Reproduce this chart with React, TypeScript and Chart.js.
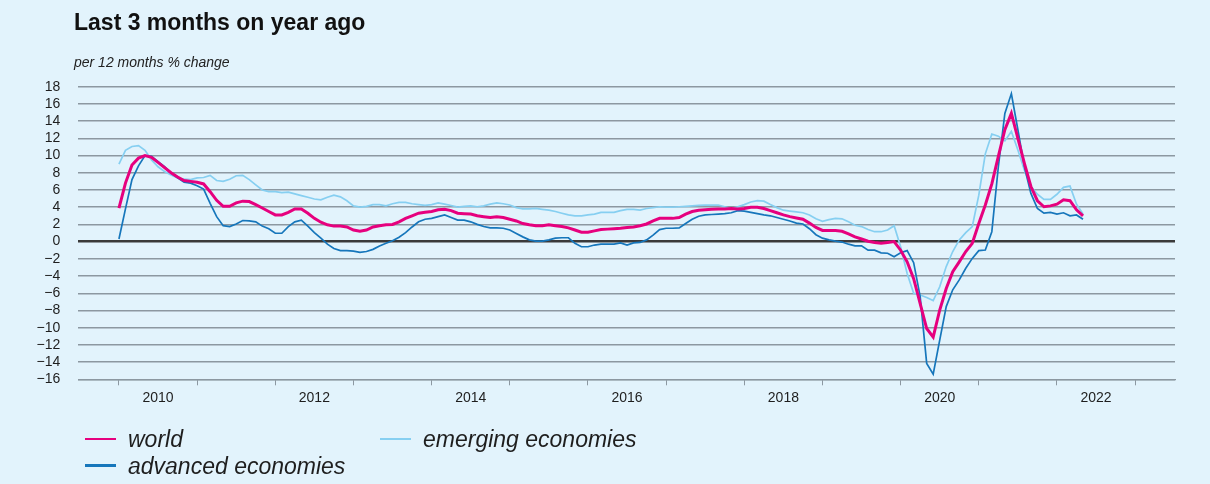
import React, { useEffect, useRef } from 'react';
import { Chart, registerables } from 'chart.js';

Chart.register(...registerables);

const TITLE = 'Last 3 months on year ago';
const SUBTITLE = 'per 12 months % change';

// Monthly observations, first one = January 2010
const START_YEAR = 2010;

const WORLD = [
  3.9, 6.8, 8.9, 9.7, 10.0, 9.8, 9.2, 8.6, 8.0, 7.5, 7.1, 7.0,
  6.9, 6.7, 5.8, 4.8, 4.1, 4.1, 4.5, 4.7, 4.65, 4.3, 3.9, 3.5,
  3.1, 3.1, 3.4, 3.8, 3.8, 3.3, 2.7, 2.25, 1.95, 1.8, 1.8, 1.7,
  1.35, 1.2, 1.35, 1.7, 1.85, 1.95, 2.0, 2.3, 2.7, 3.0, 3.3, 3.4,
  3.5, 3.7, 3.75, 3.6, 3.3, 3.25, 3.2, 3.0, 2.9, 2.8, 2.9, 2.8,
  2.6, 2.4, 2.1, 1.95, 1.85, 1.85, 1.95, 1.85, 1.75, 1.6, 1.35, 1.1,
  1.1, 1.25, 1.4, 1.45, 1.5, 1.55, 1.65, 1.7, 1.85, 2.05, 2.4, 2.7,
  2.7, 2.7, 2.8, 3.2, 3.5, 3.65, 3.7, 3.75, 3.8, 3.8, 3.85, 3.8,
  3.85, 4.0, 4.0, 3.85, 3.6, 3.35, 3.1, 2.9, 2.75, 2.6, 2.15, 1.65,
  1.3, 1.3, 1.3, 1.2, 0.9, 0.55, 0.3, 0.05, -0.1, -0.2, -0.1, 0.0,
  -1.0, -2.35, -4.3, -7.2, -10.1, -11.1, -7.95, -5.45, -3.5, -2.35, -1.15, -0.2,
  2.1, 4.25, 6.7, 9.9, 13.0, 14.9, 12.0, 9.1, 6.4, 4.75, 4.05, 4.15,
  4.35, 4.85, 4.75, 3.7, 3.0,
];

const ADVANCED = [
  0.3, 3.8, 7.2, 8.8, 10.0, 9.9, 9.3, 8.7, 7.95, 7.4, 6.9, 6.8,
  6.5, 6.1, 4.45, 2.9, 1.85, 1.75, 2.05, 2.45, 2.4, 2.3, 1.8, 1.5,
  0.97, 0.97, 1.75, 2.3, 2.5, 1.8, 1.05, 0.4, -0.3, -0.8, -1.05, -1.05,
  -1.1, -1.25, -1.15, -0.9, -0.5, -0.2, 0.1, 0.5, 1.05, 1.7, 2.3, 2.6,
  2.7, 2.9, 3.1, 2.8, 2.5, 2.5, 2.3, 2.0, 1.75, 1.6, 1.6, 1.55,
  1.35, 0.95, 0.55, 0.2, 0.05, 0.05, 0.2, 0.4, 0.45, 0.45, -0.2, -0.6,
  -0.6, -0.4, -0.3, -0.3, -0.3, -0.15, -0.4, -0.15, -0.1, 0.2, 0.75, 1.4,
  1.55, 1.55, 1.6, 2.1, 2.6, 2.95, 3.1, 3.15, 3.2, 3.25, 3.35, 3.6,
  3.55, 3.4, 3.25, 3.1, 3.0, 2.8, 2.6, 2.4, 2.15, 2.05, 1.5, 0.8,
  0.4, 0.2, 0.05, -0.05, -0.3, -0.5, -0.5, -1.0, -1.0, -1.3, -1.35, -1.75,
  -1.3, -1.05, -2.45, -6.4, -14.15, -15.4, -11.45, -7.55, -5.6, -4.45, -3.1, -1.95,
  -1.05, -0.98, 1.15, 8.7, 14.9, 17.2, 13.0, 8.7, 5.6, 3.85, 3.3, 3.4,
  3.2, 3.35, 3.0, 3.1, 2.6,
];

const EMERGING = [
  9.0, 10.6, 11.05, 11.15, 10.6, 9.5, 8.7, 8.15, 7.75, 7.4, 7.25, 7.2,
  7.4, 7.45, 7.7, 7.1, 7.0, 7.25, 7.65, 7.7, 7.2, 6.6, 6.0, 5.8,
  5.8, 5.7, 5.75, 5.55, 5.35, 5.15, 4.95, 4.85, 5.15, 5.4, 5.2, 4.75,
  4.15, 4.0, 4.1, 4.3, 4.3, 4.15, 4.4, 4.55, 4.55, 4.4, 4.3, 4.2,
  4.3, 4.5, 4.35, 4.2, 4.0, 4.1, 4.15, 4.05, 4.15, 4.35, 4.5, 4.4,
  4.25, 3.95, 3.8, 3.8, 3.85, 3.75, 3.65, 3.5, 3.3, 3.1, 3.0, 3.0,
  3.1, 3.2, 3.4, 3.4, 3.4, 3.6, 3.75, 3.75, 3.65, 3.85, 3.95, 4.05,
  4.0, 4.0, 4.05, 4.1, 4.15, 4.2, 4.25, 4.25, 4.25, 4.05, 3.85, 4.05,
  4.3, 4.6, 4.75, 4.7, 4.3, 3.95, 3.65, 3.55, 3.45, 3.35, 3.1, 2.65,
  2.35, 2.55, 2.7, 2.65, 2.3, 1.9, 1.75, 1.4, 1.15, 1.15, 1.35, 1.85,
  -0.6, -3.7, -6.0, -6.2, -6.5, -6.85, -5.25, -2.9, -1.15, 0.2, 1.05, 1.75,
  5.4, 10.2, 12.5, 12.25, 11.7, 12.8, 10.65, 8.3, 6.4, 5.5, 4.9, 4.9,
  5.5, 6.3, 6.45, 4.35, 3.2,
];

const Y_TICKS = [-16, -14, -12, -10, -8, -6, -4, -2, 0, 2, 4, 6, 8, 10, 12, 14, 16, 18];
const YEAR_TICKS = [2010, 2011, 2012, 2013, 2014, 2015, 2016, 2017, 2018, 2019, 2020, 2021, 2022, 2023];
const YEAR_LABELS = ['2010', '2012', '2014', '2016', '2018', '2020', '2022'];

const SERIES_NAMES = ['world', 'advanced economies', 'emerging economies'];

const BG = '#e2f3fc';
const PINK = '#e6007e';
const DARK_BLUE = '#1676bb';
const LIGHT_BLUE = '#86cff1';
const GRID = '#8c98a1';
const ZERO = '#3a3a3a';
const TEXT = '#1e1e1e';
const FONT = '"Liberation Sans", Arial, Helvetica, sans-serif';

function toPoints(values: number[]) {
  return values.map((v, i) => ({ x: START_YEAR + i / 12, y: v }));
}

function fmtY(v: number) {
  return v < 0 ? '\u2212' + Math.abs(v) : String(v);
}

const LegendItem = ({ left, top, color, label, width }: { left: number; top: number; color: string; label: string; width: number }) => (
  <div style={{ position: 'absolute', left, top, height: 23, whiteSpace: 'nowrap' }}>
    <div style={{ position: 'absolute', left: 0, top: 9.5, width, height: 2.5, background: color }} />
    <div
      style={{
        position: 'absolute',
        left: 43,
        top: 0,
        font: `italic 23px/23px ${FONT}`,
        color: TEXT,
      }}
    >
      {label}
    </div>
  </div>
);

export default function App() {
  const canvasRef = useRef<HTMLCanvasElement | null>(null);

  useEffect(() => {
    document.body.style.margin = '0';
    document.body.style.background = BG;
    const canvas = canvasRef.current;
    if (!canvas) return;

    const labelMap = new Map<number, string>();
    YEAR_LABELS.forEach((l) => labelMap.set(Number(l) + 0.5, l));
    const xTickValues = [...YEAR_TICKS, ...YEAR_LABELS.map((l) => Number(l) + 0.5)].sort((a, b) => a - b);

    const chart = new Chart(canvas, {
      type: 'line',
      data: {
        datasets: [
          {
            label: SERIES_NAMES[0],
            data: toPoints(WORLD),
            borderColor: PINK,
            borderWidth: 3,
            pointRadius: 0,
            tension: 0,
            fill: false,
          },
          {
            label: SERIES_NAMES[1],
            data: toPoints(ADVANCED),
            borderColor: DARK_BLUE,
            borderWidth: 1.7,
            pointRadius: 0,
            tension: 0,
            fill: false,
          },
          {
            label: SERIES_NAMES[2],
            data: toPoints(EMERGING),
            borderColor: LIGHT_BLUE,
            borderWidth: 1.7,
            pointRadius: 0,
            tension: 0,
            fill: false,
          },
        ],
      },
      options: {
        responsive: false,
        animation: false,
        devicePixelRatio: 1,
        layout: { padding: { top: 86.7, right: 35, left: 0, bottom: 0 } },
        plugins: {
          legend: { display: false },
          title: { display: false },
          tooltip: { enabled: false },
        },
        scales: {
          x: {
            type: 'linear',
            min: 2009.48,
            max: 2023.51,
            afterFit: (scale: any) => {
              scale.height = 104.7;
            },
            afterBuildTicks: (scale: any) => {
              scale.ticks = xTickValues.map((v) => ({ value: v }));
            },
            ticks: {
              autoSkip: false,
              maxRotation: 0,
              minRotation: 0,
              padding: 4,
              color: TEXT,
              font: { family: FONT, size: 14 },
              callback: (value: any) => labelMap.get(Number(value)) ?? '',
            },
            grid: {
              drawOnChartArea: false,
              drawTicks: true,
              tickLength: 6,
              tickWidth: 1,
              tickColor: (ctx: any) =>
                ctx.tick && Number.isInteger(ctx.tick.value) ? GRID : 'rgba(0,0,0,0)',
            },
            border: { display: true, color: GRID, width: 1.2 },
          },
          y: {
            type: 'linear',
            min: -16,
            max: 18,
            afterFit: (scale: any) => {
              scale.width = 78.3;
            },
            afterBuildTicks: (scale: any) => {
              scale.ticks = Y_TICKS.map((v) => ({ value: v }));
            },
            ticks: {
              autoSkip: false,
              padding: 18,
              color: TEXT,
              font: { family: FONT, size: 14 },
              callback: (value: any) => fmtY(Number(value)),
            },
            grid: {
              drawTicks: false,
              color: (ctx: any) => (ctx.tick && ctx.tick.value === 0 ? ZERO : GRID),
              lineWidth: (ctx: any) => (ctx.tick && ctx.tick.value === 0 ? 2.6 : 1.4),
            },
            border: { display: false },
          },
        },
      },
    });

    return () => {
      chart.destroy();
    };
  }, []);

  return (
    <div style={{ position: 'relative', width: 1210, height: 484, background: BG, overflow: 'hidden' }}>
      <canvas ref={canvasRef} width={1210} height={484} style={{ position: 'absolute', left: 0, top: 0 }} />
      <div
        style={{
          position: 'absolute',
          left: 74,
          top: 11.2,
          font: `bold 23px/23px ${FONT}`,
          color: '#111',
          whiteSpace: 'nowrap',
        }}
      >
        {TITLE}
      </div>
      <div
        style={{
          position: 'absolute',
          left: 74,
          top: 54.9,
          font: `italic 14px/14px ${FONT}`,
          color: '#222',
          whiteSpace: 'nowrap',
        }}
      >
        {SUBTITLE}
      </div>
      <LegendItem left={85} top={428.2} color={PINK} label={SERIES_NAMES[0]} width={31} />
      <LegendItem left={85} top={454.8} color={DARK_BLUE} label={SERIES_NAMES[1]} width={31} />
      <LegendItem left={380} top={428.2} color={LIGHT_BLUE} label={SERIES_NAMES[2]} width={31} />
    </div>
  );
}
